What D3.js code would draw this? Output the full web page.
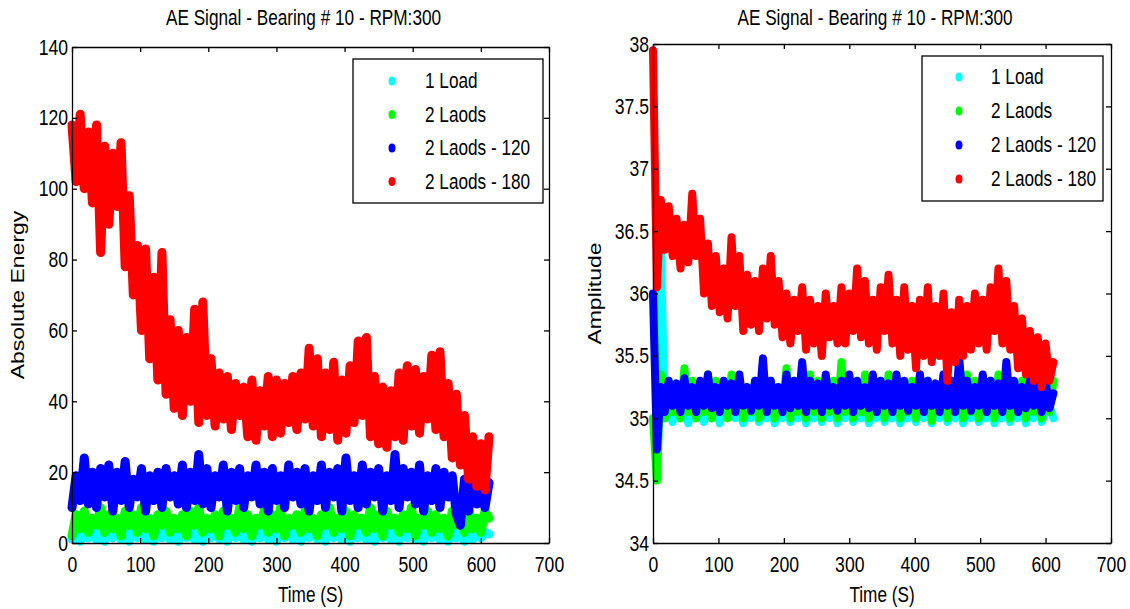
<!DOCTYPE html>
<html>
<head>
<meta charset="utf-8">
<script src="https://cdn.jsdelivr.net/npm/d3@7/dist/d3.min.js"></script>
<style>
  html, body { margin: 0; padding: 0; background: #fff; }
  svg { display: block; }
  text { font-family: "Liberation Sans", Arial, Helvetica, sans-serif; fill: #000; }
</style>
</head>
<body>
<svg id="chart" width="1130" height="609"></svg>
<script>
// Sampling grid of the recordings (seconds)
const timeSec = d3.range(0, 613, 6);

const seriesNames = ["1 Load", "2 Laods", "2 Laods - 120", "2 Laods - 180"];
const seriesColors = ["#00ffff", "#00ff00", "#0000ff", "#ff0000"];

// Absolute energy per load case
const energyLoad1 = [1,3,0.5,4,1.5,3,1,3.5,0.5,3,
  1.5,4,1,3,0.5,3.5,1.5,3,1,4,
  0.5,3,1.5,3.5,1,3,0.5,4,1.5,3,
  1,3.5,0.5,3,1.5,4,1,3,0.5,3.5,
  1.5,3,1,4,0.5,3,1.5,3.5,1,3,
  0.5,4,1.5,3,1,3.5,0.5,3,1.5,4,
  1,3,0.5,3.5,1.5,3,1,4,0.5,3,
  1.5,3.5,1,3,0.5,4,1.5,3,1,3.5,
  0.5,3,1.5,4,1,3,0.5,3.5,1.5,3,
  1,4,0.5,3,1.5,3.5,0.5,3,1,4,
  1.5,3,2.5];
const energyLoad2 = [2,8,4,9,3,7,5,10,3,8,
  4,7,2,9,5,8,3,10,4,7,
  2,8,5,9,3,7,4,8,2,9,
  5,10,3,7,4,8,2,9,5,7,
  3,10,4,8,2,7,5,9,3,8,
  4,10,2,7,5,8,3,9,4,7,
  2,8,5,10,3,7,4,9,2,8,
  5,7,3,10,4,8,2,9,5,7,
  3,8,4,10,2,7,5,9,3,8,
  4,7,2,9,5,8,3,10,4,7,
  3,9,7];
const energyLoad2_120 = [10,19,12,24,11,20,10,21,13,22,
  9,20,12,23,10,18,13,21,9,19,
  12,20,10,21,13,19,11,22,10,20,
  12,25,11,21,10,19,13,22,9,20,
  12,21,10,19,13,22,11,20,9,21,
  12,19,10,22,13,20,11,21,9,19,
  12,22,10,20,13,21,9,24,12,19,
  10,22,11,20,13,21,9,19,12,25,
  10,21,13,20,11,22,9,19,12,21,
  10,20,13,19,8,5,18,9,20,11,
  19,10,17];
const energyLoad2_180 = [118,102,121,100,116,96,118,82,112,90,
  110,95,113,78,98,70,84,60,83,52,
  75,46,82,42,63,38,60,36,58,40,
  66,34,68,36,52,33,48,35,47,32,
  45,36,44,30,46,29,43,33,47,30,
  46,31,45,34,47,32,48,35,55,33,
  52,30,48,32,51,29,46,31,50,34,
  57,36,58,30,47,28,44,27,43,30,
  48,29,50,33,49,31,47,35,53,32,
  54,30,45,24,42,22,36,18,30,16,
  28,15,30];

// Signal amplitude per load case
const ampLoad1 = [35.0,34.95,36.35,35.0,35.1,34.97,35.12,35.0,35.08,34.96,
  35.1,35.0,35.12,34.97,35.08,35.0,35.1,34.96,35.12,35.0,
  35.12,35.0,35.08,34.96,35.1,35.0,35.12,34.97,35.08,35.0,
  35.1,34.96,35.12,35.0,35.08,34.97,35.1,35.0,35.12,34.96,
  35.08,35.0,35.1,34.97,35.12,35.0,35.08,34.96,35.1,35.0,
  35.12,34.97,35.08,35.0,35.1,34.96,35.12,35.0,35.08,34.97,
  35.1,35.0,35.12,34.96,35.08,35.0,35.1,34.97,35.12,35.0,
  35.08,34.96,35.1,35.0,35.12,34.97,35.08,35.0,35.1,34.96,
  35.12,35.0,35.08,34.97,35.1,35.0,35.12,34.96,35.08,35.0,
  35.1,34.97,35.12,35.0,35.08,34.96,35.1,35.0,35.12,34.97,
  35.05,35.1,35.0];
const ampLoad2 = [35.0,34.5,35.35,35.0,35.3,35.05,35.25,35.0,35.4,35.05,
  35.3,35.0,35.25,35.05,35.35,35.0,35.3,35.05,35.25,35.0,
  35.35,35.05,35.3,35.0,35.25,35.05,35.3,35.0,35.35,35.05,
  35.3,35.0,35.25,35.05,35.4,35.0,35.3,35.05,35.25,35.0,
  35.35,35.05,35.3,35.0,35.25,35.05,35.3,35.0,35.45,35.05,
  35.3,35.0,35.25,35.05,35.35,35.0,35.3,35.05,35.25,35.0,
  35.35,35.05,35.3,35.0,35.25,35.05,35.3,35.0,35.35,35.05,
  35.3,34.98,35.25,35.05,35.35,35.0,35.3,35.05,35.25,35.0,
  35.35,35.05,35.3,35.0,35.25,35.05,35.3,35.0,35.35,35.05,
  35.3,35.0,35.25,35.05,35.3,35.0,35.35,35.05,35.3,35.0,
  35.35,35.05,35.3];
const ampLoad2_120 = [36.0,34.75,35.25,35.05,35.3,35.1,35.28,35.05,35.32,35.1,
  35.25,35.05,35.3,35.1,35.35,35.08,35.25,35.05,35.3,35.1,
  35.28,35.05,35.35,35.1,35.25,35.06,35.3,35.1,35.48,35.05,
  35.3,35.1,35.25,35.05,35.35,35.08,35.3,35.1,35.45,35.05,
  35.3,35.1,35.28,35.05,35.35,35.1,35.25,35.06,35.3,35.1,
  35.35,35.05,35.3,35.1,35.25,35.08,35.35,35.05,35.3,35.1,
  35.28,35.05,35.35,35.1,35.3,35.06,35.25,35.1,35.35,35.05,
  35.3,35.1,35.28,35.05,35.35,35.1,35.3,35.05,35.48,35.1,
  35.3,35.06,35.25,35.1,35.35,35.05,35.3,35.1,35.28,35.05,
  35.45,35.1,35.3,35.05,35.25,35.08,35.3,35.1,35.25,35.05,
  35.3,35.08,35.2];
const ampLoad2_180 = [37.95,36.05,36.75,36.35,36.7,36.3,36.6,36.2,36.55,36.25,
  36.8,36.3,36.6,36.0,36.4,35.9,36.3,35.85,36.2,35.8,
  36.45,35.9,36.3,35.7,36.15,35.75,36.1,35.7,36.2,35.8,
  36.3,35.75,36.1,35.65,36.0,35.6,35.95,35.7,36.05,35.55,
  35.95,35.6,35.9,35.5,36.0,35.65,35.9,35.6,36.05,35.6,
  36.0,35.7,36.2,35.65,36.1,35.6,35.95,35.55,36.05,35.7,
  36.15,35.6,35.95,35.5,36.05,35.55,35.9,35.4,35.95,35.5,
  36.05,35.45,35.9,35.5,36.0,35.3,35.85,35.45,35.95,35.5,
  35.9,35.55,36.0,35.6,35.95,35.55,36.05,35.7,36.2,35.6,
  36.1,35.55,35.9,35.4,35.8,35.35,35.7,35.3,35.65,35.25,
  35.6,35.3,35.45];

const xTicks = [0, 100, 200, 300, 400, 500, 600, 700];
const energyTicks = [0, 20, 40, 60, 80, 100, 120, 140];
const ampTicks = [34, 34.5, 35, 35.5, 36, 36.5, 37, 37.5, 38];

const titleText = "AE Signal - Bearing # 10 - RPM:300";
const xLabelText = "Time (S)";

// Text is drawn slightly condensed horizontally
const SX = 0.8;
const TICK_FONT = 22;

const svg = d3.select("#chart");

function hText(parent, x, y, str, size, anchor) {
  return parent.append("text")
    .attr("transform", `translate(${x},${y}) scale(${SX},1)`)
    .attr("text-anchor", anchor || "middle")
    .style("font-size", size + "px")
    .text(str);
}

function drawPanel(cfg) {
  const { left, right, top, bottom, yDomain, yTicks, yFormat, data, yLabel, yLabelX, legend, lineWidth } = cfg;
  const x = d3.scaleLinear().domain([0, 700]).range([left, right]);
  const y = d3.scaleLinear().domain(yDomain).range([bottom, top]);
  const g = svg.append("g");

  // series, drawn in legend order so the last one lies on top
  const line = d3.line().x((d, i) => x(timeSec[i])).y(d => y(d));
  data.forEach((vals, k) => {
    g.append("path")
      .datum(vals)
      .attr("d", line)
      .attr("fill", "none")
      .attr("stroke", seriesColors[k])
      .attr("stroke-width", lineWidth)
      .attr("stroke-linejoin", "round")
      .attr("stroke-linecap", "round");
  });

  // box axes with inward ticks
  const styleAxis = sel => {
    sel.selectAll("path.domain").attr("stroke", "#000").attr("stroke-width", 1.3);
    sel.selectAll(".tick line").attr("stroke", "#000").attr("stroke-width", 1.3);
  };
  const bottomAxis = g.append("g").attr("transform", `translate(0,${bottom})`)
    .call(d3.axisBottom(x).tickValues(xTicks).tickSize(-5).tickSizeOuter(0).tickPadding(13).tickFormat(d3.format("d")));
  bottomAxis.call(styleAxis);
  bottomAxis.selectAll("text")
    .attr("transform", `scale(${SX},1)`)
    .style("font-size", TICK_FONT + "px")
    .style("font-family", "Liberation Sans, Arial, sans-serif");

  const leftAxis = g.append("g").attr("transform", `translate(${left},0)`)
    .call(d3.axisLeft(y).tickValues(yTicks).tickSize(-5).tickSizeOuter(0).tickPadding(5).tickFormat(yFormat));
  leftAxis.call(styleAxis);
  leftAxis.selectAll("text")
    .attr("transform", `scale(${SX},1)`)
    .style("font-size", TICK_FONT + "px")
    .style("font-family", "Liberation Sans, Arial, sans-serif");

  const topAxis = g.append("g").attr("transform", `translate(0,${top})`)
    .call(d3.axisTop(x).tickValues(xTicks).tickSize(-5).tickSizeOuter(0).tickFormat(""));
  topAxis.call(styleAxis);
  const rightAxis = g.append("g").attr("transform", `translate(${right},0)`)
    .call(d3.axisRight(y).tickValues(yTicks).tickSize(-5).tickSizeOuter(0).tickFormat(""));
  rightAxis.call(styleAxis);

  // title and axis labels
  hText(g, (left + right) / 2 - 7, 25, titleText, 21.5);
  hText(g, (left + right) / 2, 602, xLabelText, 21.5);
  g.append("text")
    .attr("transform", `translate(${yLabelX},${(top + bottom) / 2}) rotate(-90) scale(1,${SX})`)
    .attr("text-anchor", "middle")
    .style("font-size", "23px")
    .text(yLabel);

  // legend
  const lg = g.append("g");
  lg.append("rect")
    .attr("x", legend.x).attr("y", legend.y)
    .attr("width", legend.w).attr("height", legend.h)
    .attr("fill", "#fff").attr("stroke", "#000").attr("stroke-width", 1.3);
  seriesNames.forEach((name, k) => {
    const cy = legend.y + legend.rowStart + k * legend.rowGap;
    lg.append("ellipse")
      .attr("cx", legend.x + legend.markerDx).attr("cy", cy)
      .attr("rx", 3.5).attr("ry", 4.5)
      .attr("fill", seriesColors[k]);
    hText(lg, legend.x + legend.textDx, cy + 7, name, 21.5, "start");
  });
}

drawPanel({
  left: 72, right: 549, top: 47, bottom: 543,
  yDomain: [0, 140], yTicks: energyTicks, yFormat: d3.format("d"),
  data: [energyLoad1, energyLoad2, energyLoad2_120, energyLoad2_180],
  yLabel: "Absolute Energy", yLabelX: 24, lineWidth: 9,
  legend: { x: 353, y: 59, w: 190, h: 144, rowStart: 22, rowGap: 33.5, markerDx: 39, textDx: 72 }
});

drawPanel({
  left: 653, right: 1111, top: 44, bottom: 543,
  yDomain: [34, 38], yTicks: ampTicks, yFormat: d => d3.format("")(d),
  data: [ampLoad1, ampLoad2, ampLoad2_120, ampLoad2_180],
  yLabel: "Amplitude", yLabelX: 601, lineWidth: 8,
  legend: { x: 922, y: 56, w: 181, h: 145, rowStart: 21, rowGap: 34, markerDx: 37, textDx: 69 }
});
</script>
</body>
</html>
